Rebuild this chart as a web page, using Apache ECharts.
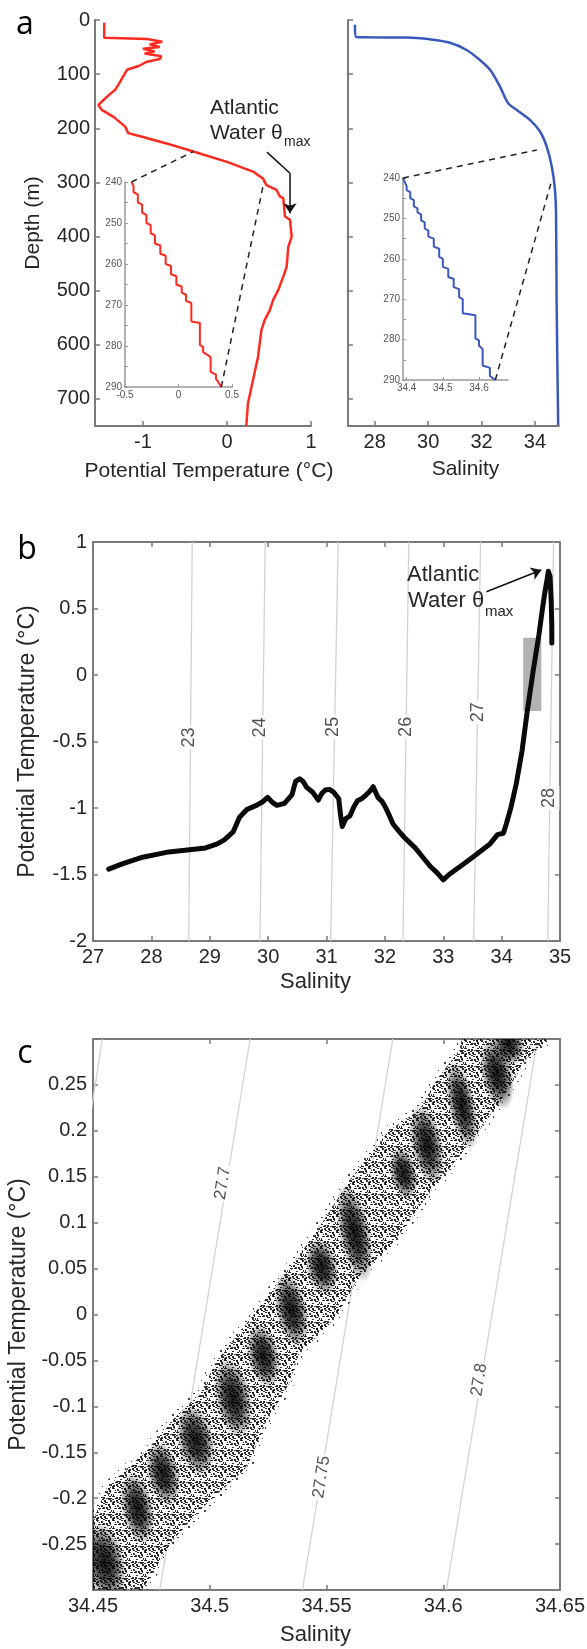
<!DOCTYPE html>
<html lang="en">
<head>
<meta charset="UTF-8">
<title>Atlantic Water profiles</title>
<script src="https://cdn.jsdelivr.net/npm/echarts@6/dist/echarts.min.js"></script>
<style>html,body{margin:0;padding:0;background:#fff;}</style>
</head>
<body>
<div id="chart" style="width:587px;height:1649px;"></div>
<script type="text/javascript">
// ---- panel a, temperature profile (depth m / potential temperature C) ----
var tempDepth = [5, 33, 35, 40, 45, 50, 53, 58, 62, 67, 72, 77, 85, 92, 114, 129, 142, 157, 166, 179,
    197, 209, 216, 228, 243, 262, 280, 293, 305, 314, 326, 329, 363, 369, 400, 419, 456, 474, 499, 517,
    536, 554, 573, 622, 665, 708, 750];
var tempValue = [-1.46, -1.46, -0.95, -0.77, -0.92, -0.80, -1.0, -0.86, -0.98, -0.78, -0.80, -0.95, -1.05, -1.19, -1.27, -1.33, -1.43, -1.53, -1.49, -1.35,
    -1.21, -1.175, -1.0, -0.72, -0.40, 0.0, 0.31, 0.43, 0.47, 0.59, 0.63, 0.67, 0.69, 0.75, 0.77, 0.73, 0.71, 0.67, 0.61, 0.55,
    0.51, 0.45, 0.41, 0.37, 0.31, 0.25, 0.23];
// zoomed staircase 240-290 m
var insetTempDepth = [240, 241, 242.5, 243, 245, 245.5, 247.5, 248, 250, 250.5, 252.5, 253, 255, 255.5, 257.5, 258, 260, 260.5, 262.5, 263,
    265, 265.5, 267, 267.5, 269, 269.5, 274, 274.4, 279.8, 280.2, 281.5, 282, 282.7, 286.3, 287, 288, 288.7, 290];
var insetTempValue = [-0.44, -0.42, -0.42, -0.38, -0.38, -0.34, -0.34, -0.30, -0.30, -0.26, -0.26, -0.22, -0.22, -0.17, -0.17, -0.12, -0.12, -0.07, -0.07, -0.02,
    -0.02, 0.03, 0.03, 0.07, 0.07, 0.12, 0.12, 0.20, 0.20, 0.23, 0.23, 0.26, 0.30, 0.30, 0.35, 0.35, 0.37, 0.40];

// ---- panel a, salinity profile ----
var salDepth = [9, 31, 32, 32.3, 35.7, 41.9, 55.4, 74, 92, 123, 154, 166, 185, 206, 234, 271, 314, 363, 517, 748];
var salValue = [27.26, 27.30, 27.8, 29.2, 30.07, 30.82, 31.44, 31.94, 32.32, 32.69, 33.0, 33.31, 33.82, 34.19, 34.44, 34.63, 34.75, 34.79, 34.81, 34.87];
var insetSalDepth = [240, 241, 242, 243, 243.5, 245, 245.5, 247, 247.5, 248.5, 249, 250.5, 251, 252.5, 253, 254.5, 255, 257, 257.5, 259.5,
    260, 262, 262.5, 264.5, 265, 267, 267.5, 269.5, 270, 273.5, 274, 279.7, 280.2, 281.5, 282.3, 286.4, 287, 289, 290];
var insetSalValue = [34.39, 34.395, 34.40, 34.40, 34.41, 34.41, 34.42, 34.42, 34.43, 34.43, 34.44, 34.44, 34.45, 34.45, 34.46, 34.46, 34.475, 34.475, 34.49, 34.49,
    34.50, 34.50, 34.515, 34.515, 34.53, 34.53, 34.545, 34.545, 34.555, 34.555, 34.59, 34.59, 34.60, 34.60, 34.61, 34.61, 34.63, 34.63, 34.645];

// dashed links inset <-> profile
var linkTempInsetT = [-0.44, 0.40], linkTempInsetD = [240, 290];
var linkTempMainT = [-0.40, 0.44], linkTempMainD = [243, 299];
var linkSalInsetS = [34.39, 34.645], linkSalInsetD = [240, 290];
var linkSalMainS = [34.07, 34.63], linkSalMainD = [240, 296];
// arrow to theta max (panel a)
var arrowATemp = [0.476, 0.75, 0.75], arrowADepth = [244, 283, 357];

// ---- panel b, theta-S curve ----
var tsSal = [27.27, 27.5, 27.85, 28.3, 28.93, 29.13, 29.25, 29.40, 29.51, 29.64, 29.80, 29.90, 29.99, 30.08, 30.15, 30.28, 30.41, 30.47, 30.54, 30.60,
    30.66, 30.76, 30.86, 30.92, 30.98, 31.05, 31.12, 31.21, 31.24, 31.27, 31.33, 31.40, 31.47, 31.53, 31.60, 31.66, 31.75, 31.80, 31.82, 31.88,
    31.95, 32.01, 32.07, 32.14, 32.25, 32.33, 32.52, 32.65, 32.78, 32.90, 33.0, 33.10, 33.29, 33.55, 33.80, 33.93, 34.03, 34.08, 34.16, 34.25,
    34.35, 34.44, 34.54, 34.64, 34.70, 34.74, 34.78, 34.80, 34.83, 34.85, 34.86, 34.86];
var tsTemp = [-1.46, -1.42, -1.37, -1.33, -1.30, -1.27, -1.24, -1.18, -1.07, -1.01, -0.98, -0.955, -0.92, -0.96, -0.98, -0.965, -0.90, -0.80, -0.78, -0.80,
    -0.845, -0.88, -0.94, -0.89, -0.865, -0.86, -0.88, -0.93, -1.05, -1.14, -1.08, -1.06, -0.99, -0.945, -0.93, -0.91, -0.87, -0.84, -0.85, -0.92,
    -0.95, -0.995, -1.05, -1.12, -1.18, -1.22, -1.30, -1.37, -1.44, -1.49, -1.54, -1.50, -1.44, -1.355, -1.27, -1.20, -1.19, -1.12, -0.995, -0.82,
    -0.57, -0.27, 0.03, 0.305, 0.50, 0.62, 0.72, 0.78, 0.74, 0.55, 0.35, 0.24];
var sigmaB = ['23', '24', '25', '26', '27', '28'];
var sigmaBSalLow = [28.64, 29.86, 31.07, 32.31, 33.52, 34.79];   // at -2 C
var sigmaBSalHigh = [28.70, 29.95, 31.20, 32.41, 33.64, 34.89];  // at 1 C
var sigmaBLabelSal = [28.65, 29.86, 31.11, 32.36, 33.60, 34.82];
var sigmaBLabelTemp = [-0.47, -0.395, -0.39, -0.39, -0.28, -0.925];
var boxSal = [34.37, 34.68], boxTemp = [-0.27, 0.28];
var arrowBSal = [33.74, 34.68], arrowBTemp = [0.626, 0.79];

// ---- panel c, zoomed theta-S cloud ----
var sigmaC = [27.65, 27.7, 27.75, 27.8];
var sigmaCSalLow = [34.4175, 34.4786, 34.5397, 34.6013];  // at -0.3 C
var sigmaCSalHigh = [34.454, 34.5173, 34.5784, 34.6404];  // at 0.3 C
var sigmaCLabel = ['27.7', '27.75', '27.8'];
var sigmaCLabelSal = [34.5056, 34.5479, 34.6154];
var sigmaCLabelTemp = [0.143, -0.177, -0.071];
var cloudEdgeSal = [34.450, 34.456, 34.473, 34.484, 34.496, 34.503, 34.517, 34.530, 34.544, 34.561, 34.577, 34.590, 34.597, 34.607, 34.608,
    34.645, 34.635, 34.632, 34.624, 34.610, 34.594, 34.577, 34.565, 34.553, 34.538, 34.534, 34.524, 34.516, 34.497, 34.484, 34.471, 34.450];
var cloudEdgeTemp = [-0.224, -0.188, -0.148, -0.115, -0.086, -0.050, -0.006, 0.037, 0.084, 0.150, 0.201, 0.223, 0.255, 0.288, 0.300,
    0.300, 0.277, 0.263, 0.230, 0.182, 0.132, 0.073, 0.045, -0.006, -0.044, -0.075, -0.118, -0.166, -0.210, -0.246, -0.300, -0.300];
var clusterSal = [34.455, 34.469, 34.480, 34.494, 34.510, 34.523, 34.535, 34.548, 34.562, 34.583, 34.593, 34.608, 34.623, 34.628];
var clusterTemp = [-0.27, -0.211, -0.173, -0.137, -0.091, -0.045, 0.005, 0.052, 0.089, 0.154, 0.185, 0.228, 0.262, 0.295];
var clusterHalfSal = [0.009, 0.007, 0.007, 0.008, 0.008, 0.007, 0.007, 0.007, 0.007, 0.006, 0.007, 0.006, 0.007, 0.007];
var clusterHalfTemp = [0.045, 0.04, 0.036, 0.04, 0.045, 0.036, 0.042, 0.032, 0.055, 0.03, 0.045, 0.05, 0.04, 0.025];

var FONT = 'Arial, "Liberation Sans", Helvetica, sans-serif';
var AXC = '#7a7a7a';
var TXT = '#262626';

function zip() {
    var cols = arguments;
    return cols[0].map(function (v, i) {
        var row = [];
        for (var k = 0; k < cols.length; k++) row.push(cols[k][i]);
        return row;
    });
}
function merge(a, b) {
    for (var k in b) {
        if (b[k] && typeof b[k] === 'object' && !Array.isArray(b[k]) && a[k] && typeof a[k] === 'object') merge(a[k], b[k]);
        else a[k] = b[k];
    }
    return a;
}
function axis(grid, min, max, extra) {
    return merge({
        type: 'value', gridIndex: grid, min: min, max: max,
        splitLine: {show: false},
        axisLine: {show: true, onZero: false, lineStyle: {color: AXC, width: 2}},
        axisTick: {show: true, inside: true, length: 5, lineStyle: {color: AXC, width: 1.5}},
        axisLabel: {color: TXT, fontSize: 20, fontFamily: FONT, margin: 6},
        nameLocation: 'middle',
        nameTextStyle: {color: TXT, fontSize: 22, fontFamily: FONT}
    }, extra || {});
}
var small = {axisLine: {lineStyle: {color: '#999', width: 1.5}}, axisTick: {length: 3, lineStyle: {color: '#999', width: 1}},
    axisLabel: {fontSize: 10, color: '#555', margin: 3}};

// speckle textures for the scatter cloud (fixed dot layouts, 16px tile)
function makePattern(dots, alpha) {
    var cv = document.createElement('canvas');
    cv.width = 16; cv.height = 16;
    var ctx = cv.getContext('2d');
    ctx.fillStyle = 'rgba(0,0,0,' + alpha + ')';
    for (var i = 0; i < dots.length; i += 3) ctx.fillRect(dots[i], dots[i + 1], dots[i + 2], 1 + (i / 3) % 2);
    return cv;
}
var densePat = {image: makePattern([0, 0, 3, 5, 1, 2, 9, 0, 2, 13, 2, 2, 2, 4, 3, 7, 3, 2, 11, 5, 3, 15, 6, 1,
    0, 8, 3, 4, 9, 2, 8, 7, 2, 12, 10, 3, 6, 11, 2, 1, 13, 2, 9, 14, 3, 14, 12, 2, 3, 2, 1, 12, 0, 2,
    5, 14, 2, 10, 3, 2, 0, 11, 2, 7, 15, 2, 13, 8, 2, 4, 12, 2, 10, 10, 2, 1, 6, 1, 6, 4, 2, 14, 3, 1,
    3, 10, 2, 8, 12, 2, 12, 0, 2, 0, 14, 2, 15, 10, 1, 7, 9, 2], 0.82), repeat: 'repeat'};
var sparsePat = {image: makePattern([1, 1, 2, 9, 3, 1, 5, 9, 2, 13, 12, 1, 6, 14, 1, 12, 6, 2, 3, 5, 1, 14, 15, 1], 0.75), repeat: 'repeat'};

var xAxes = [
    axis(0, -1.57, 1, {axisLabel: {customValues: [-1, 0, 1]}, axisTick: {customValues: [-1, 0, 1]},
        name: 'Potential Temperature (°C)', nameGap: 35, nameTextStyle: {fontSize: 21, padding: [0, 0, 0, 12]}}),
    axis(1, -0.5, 0.5, merge({interval: 0.5}, small)),
    axis(2, 27, 34.9, {axisLabel: {customValues: [28, 30, 32, 34]}, axisTick: {customValues: [28, 30, 32, 34]},
        name: 'Salinity', nameGap: 33, nameTextStyle: {fontSize: 21, padding: [0, 0, 0, 24]}}),
    axis(3, 34.39, 34.68, merge({axisLabel: {customValues: [34.4, 34.5, 34.6]}, axisTick: {customValues: [34.4, 34.5, 34.6]}}, small)),
    axis(4, 27, 35, {interval: 1, name: 'Salinity', nameGap: 30, nameTextStyle: {padding: [0, 22, 0, 0]}}),
    axis(4, 27, 35, {interval: 1, position: 'top', axisLabel: {show: false}}),
    axis(5, 34.45, 34.65, {interval: 0.05, name: 'Salinity', nameGap: 34, nameTextStyle: {padding: [0, 22, 0, 0]}}),
    axis(5, 34.45, 34.65, {interval: 0.05, position: 'top', axisLabel: {show: false}})
];
var depthTicks = [0, 100, 200, 300, 400, 500, 600, 700];
var insetFmt = function (v) { return v % 10 === 0 ? String(v) : ''; };
var yAxes = [
    axis(0, 0, 750, {inverse: true, axisLabel: {customValues: depthTicks, margin: 5}, axisTick: {customValues: depthTicks},
        name: 'Depth (m)', nameGap: 51, nameTextStyle: {fontSize: 21}}),
    axis(1, 240, 290, merge({inverse: true, interval: 5, axisLabel: {formatter: insetFmt}}, small)),
    axis(2, 0, 750, {inverse: true, axisLabel: {show: false}, axisTick: {customValues: depthTicks}}),
    axis(3, 240, 290, merge({inverse: true, interval: 5, axisLabel: {formatter: insetFmt}}, small)),
    axis(4, -2, 1, {interval: 0.5, name: 'Potential Temperature (°C)', nameGap: 54, nameTextStyle: {fontSize: 23}}),
    axis(4, -2, 1, {interval: 0.5, position: 'right', axisLabel: {show: false}}),
    axis(5, -0.3, 0.3, {interval: 0.05, axisLabel: {showMinLabel: false, showMaxLabel: false},
        name: 'Potential Temperature (°C)', nameGap: 63, nameTextStyle: {fontSize: 23}}),
    axis(5, -0.3, 0.3, {interval: 0.05, position: 'right', axisLabel: {show: false}})
];

var series = [];
var arrowStyle = {color: '#111', width: 1.5, type: 'solid'};

// panel a
series.push({
    type: 'line', xAxisIndex: 0, yAxisIndex: 0, data: zip(tempValue, tempDepth), symbol: 'none', z: 3,
    lineStyle: {color: '#ff2a1f', width: 2.5},
    markLine: {
        silent: true, symbol: ['none', 'none'], symbolSize: 10, label: {show: false}, lineStyle: arrowStyle,
        emphasis: {disabled: true},
        data: [
            [{coord: [arrowATemp[0], arrowADepth[0]]}, {coord: [arrowATemp[1], arrowADepth[1]]}],
            [{coord: [arrowATemp[1], arrowADepth[1]]}, {coord: [arrowATemp[2], arrowADepth[2]], symbol: 'arrow'}]
        ]
    }
});
series.push({type: 'line', xAxisIndex: 1, yAxisIndex: 1, data: zip(insetTempValue, insetTempDepth), symbol: 'none',
    lineStyle: {color: '#ff2a1f', width: 2}});
series.push({type: 'line', xAxisIndex: 2, yAxisIndex: 2, data: zip(salValue, salDepth), symbol: 'none', smooth: 0.3,
    lineStyle: {color: '#3a58bb', width: 2.5}});
series.push({type: 'line', xAxisIndex: 3, yAxisIndex: 3, data: zip(insetSalValue, insetSalDepth), symbol: 'none',
    lineStyle: {color: '#3a58bb', width: 2}});

// panel b isopycnals
sigmaB.forEach(function (s, i) {
    var ser = {type: 'line', xAxisIndex: 4, yAxisIndex: 4, symbol: 'none', z: 1, silent: true,
        data: [[sigmaBSalLow[i], -2], [sigmaBSalHigh[i], 1]], lineStyle: {color: '#d2d2d2', width: 1.3}};
    if (i === 0) {
        ser.markArea = {silent: true, itemStyle: {color: '#b2b2b2'},
            data: [[{coord: [boxSal[0], boxTemp[1]]}, {coord: [boxSal[1], boxTemp[0]]}]]};
    }
    series.push(ser);
});
series.push({
    type: 'scatter', xAxisIndex: 4, yAxisIndex: 4, z: 4, silent: true, symbolSize: 1,
    itemStyle: {color: 'rgba(0,0,0,0)'},
    data: zip(sigmaBLabelSal, sigmaBLabelTemp, sigmaB),
    label: {show: true, position: 'inside', rotate: 90, formatter: function (p) { return p.value[2]; },
        color: TXT, fontSize: 18, fontFamily: FONT, backgroundColor: '#fff', padding: [1, 2]}
});
series.push({
    type: 'line', xAxisIndex: 4, yAxisIndex: 4, data: zip(tsSal, tsTemp), symbol: 'none', z: 3,
    lineStyle: {color: '#0a0a0a', width: 5, cap: 'round', join: 'round'},
    markLine: {
        silent: true, symbol: ['none', 'arrow'], symbolSize: 10, label: {show: false}, lineStyle: arrowStyle,
        emphasis: {disabled: true},
        data: [[{coord: [arrowBSal[0], arrowBTemp[0]]}, {coord: [arrowBSal[1], arrowBTemp[1]]}]]
    }
});

// panel c isopycnals
sigmaC.forEach(function (s, i) {
    series.push({type: 'line', xAxisIndex: 6, yAxisIndex: 6, symbol: 'none', z: 1, silent: true,
        data: [[sigmaCSalLow[i], -0.3], [sigmaCSalHigh[i], 0.3]], lineStyle: {color: '#d2d2d2', width: 1.3}});
});
series.push({
    type: 'scatter', xAxisIndex: 6, yAxisIndex: 6, z: 4, silent: true, symbolSize: 1,
    itemStyle: {color: 'rgba(0,0,0,0)'},
    data: zip(sigmaCLabelSal, sigmaCLabelTemp, sigmaCLabel),
    label: {show: true, position: 'inside', rotate: 81, formatter: function (p) { return p.value[2]; },
        color: TXT, fontSize: 17, fontFamily: FONT, backgroundColor: '#fff', padding: [1, 2]}
});
function clipRect(params) {
    var cs = params.coordSys;
    return {type: 'rect', shape: {x: cs.x, y: cs.y, width: cs.width, height: cs.height}};
}
series.push({
    type: 'custom', xAxisIndex: 6, yAxisIndex: 6, z: 2, silent: true, data: [[34.55, 0]],
    renderItem: function (params, api) {
        var pts = cloudEdgeSal.map(function (s, i) { return api.coord([s, cloudEdgeTemp[i]]); });
        return {type: 'group', clipPath: clipRect(params), children: [
            {type: 'polygon', shape: {points: pts},
                style: {fill: densePat, stroke: sparsePat, lineWidth: 10, lineJoin: 'round'}}
        ]};
    }
});
series.push({
    type: 'custom', xAxisIndex: 6, yAxisIndex: 6, z: 3, silent: true,
    data: zip(clusterSal, clusterTemp, clusterHalfSal, clusterHalfTemp),
    renderItem: function (params, api) {
        var c = api.coord([api.value(0), api.value(1)]);
        var sz = api.size([api.value(2), api.value(3)]);
        return {type: 'group', clipPath: clipRect(params), children: [{
            type: 'circle', shape: {cx: c[0], cy: c[1], r: sz[0]},
            scaleY: sz[1] / sz[0], originX: c[0], originY: c[1], rotation: 0.2,
            style: {fill: {type: 'radial', x: 0.5, y: 0.5, r: 0.5, colorStops: [
                {offset: 0, color: 'rgba(0,0,0,0.92)'}, {offset: 0.45, color: 'rgba(0,0,0,0.7)'},
                {offset: 1, color: 'rgba(0,0,0,0)'}]}}
        }]};
    }
});

var grids = [
    {left: 95, top: 20, width: 216, height: 406},
    {left: 125, top: 182, width: 107, height: 205},
    {left: 348, top: 20, width: 211, height: 406},
    {left: 403, top: 178, width: 105, height: 202},
    {left: 93, top: 542, width: 467, height: 399},
    {left: 93, top: 1039, width: 467, height: 551}
].map(function (g) { g.outerBoundsMode = 'none'; g.containLabel = false; return g; });

var chart = echarts.init(document.getElementById('chart'), null, {renderer: 'canvas'});
chart.setOption({
    animation: false,
    backgroundColor: '#fff',
    grid: grids,
    xAxis: xAxes,
    yAxis: yAxes,
    series: series
});

// annotation layer: panel letters, text, dashed zoom links
function px(grid, x, y) { return chart.convertToPixel({gridIndex: grid}, [x, y]); }
function dash(p, q) {
    return {type: 'line', silent: true, z: 10, shape: {x1: p[0], y1: p[1], x2: q[0], y2: q[1]},
        style: {stroke: '#222', lineWidth: 1.5, lineDash: [6, 5]}};
}
function txt(x, y, s, size, extra) {
    return merge({type: 'text', x: x, y: y, silent: true, z: 10,
        style: {text: s, fill: TXT, font: size + 'px ' + FONT, align: 'left', verticalAlign: 'middle'}}, extra || {});
}
var gfx = [];
for (var i = 0; i < 2; i++) {
    gfx.push(dash(px(1, linkTempInsetT[i], linkTempInsetD[i]), px(0, linkTempMainT[i], linkTempMainD[i])));
    gfx.push(dash(px(3, linkSalInsetS[i], linkSalInsetD[i]), px(2, linkSalMainS[i], linkSalMainD[i])));
}
var letterFont = '32px "Open Sans", ' + FONT;
gfx.push(txt(25, 25, 'a', 32, {style: {font: letterFont, align: 'center', fill: '#000'}}));
gfx.push(txt(27, 550, 'b', 32, {style: {font: letterFont, align: 'center', fill: '#000'}}));
gfx.push(txt(25, 1054, 'c', 32, {style: {font: letterFont, align: 'center', fill: '#000'}}));
gfx.push(txt(210, 108, 'Atlantic', 21));
gfx.push(txt(210, 133, 'Water θ', 21));
gfx.push(txt(284, 142, 'max', 14));
gfx.push(txt(407, 575, 'Atlantic', 22));
gfx.push(txt(408, 601, 'Water θ', 22));
gfx.push(txt(485, 612, 'max', 15));
chart.setOption({graphic: gfx});
</script>
</body>
</html>
